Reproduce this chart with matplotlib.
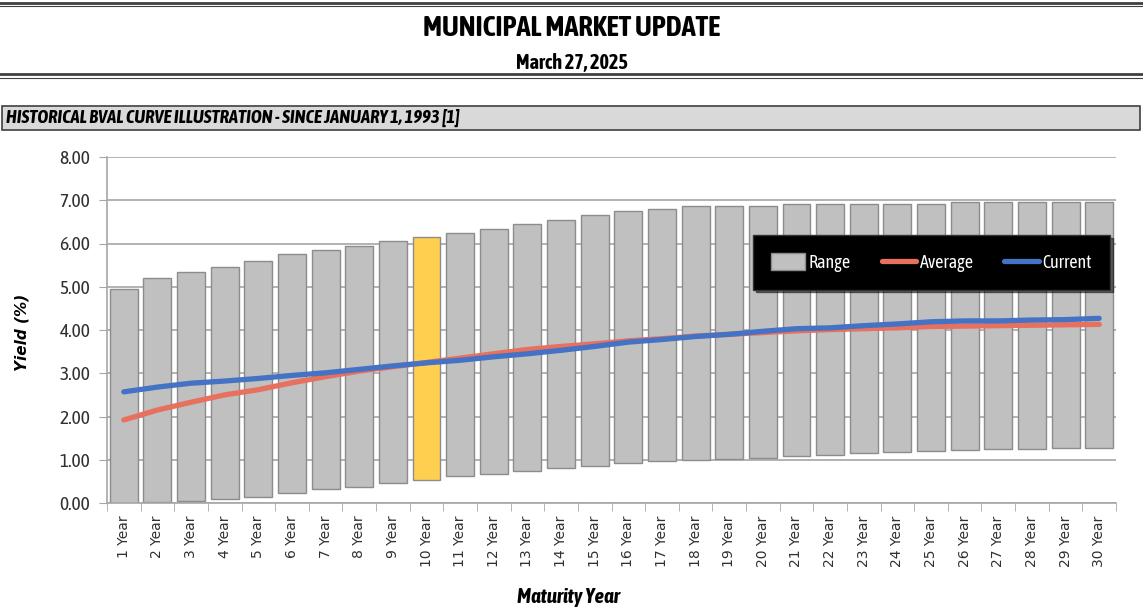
import matplotlib
matplotlib.use("Agg")
import matplotlib.pyplot as plt
import matplotlib.lines as mlines
import matplotlib.patches as mpatches
from matplotlib import font_manager
import numpy as np

# data
maturities = [str(i) + " Year" for i in range(1, 31)]
range_high = [4.95, 5.20, 5.35, 5.45, 5.60, 5.75, 5.85, 5.95, 6.05, 6.15,
              6.25, 6.33, 6.45, 6.55, 6.67, 6.75, 6.80, 6.87, 6.87, 6.87,
              6.92, 6.92, 6.92, 6.92, 6.92, 6.97, 6.97, 6.97, 6.97, 6.97]
range_low = [0.00, 0.02, 0.05, 0.10, 0.15, 0.24, 0.32, 0.37, 0.47, 0.54,
             0.62, 0.68, 0.75, 0.80, 0.86, 0.92, 0.97, 1.00, 1.02, 1.05,
             1.08, 1.12, 1.15, 1.18, 1.20, 1.22, 1.24, 1.25, 1.27, 1.28]
average = [1.92, 2.15, 2.33, 2.50, 2.62, 2.78, 2.92, 3.05, 3.15, 3.25,
           3.35, 3.45, 3.55, 3.62, 3.68, 3.75, 3.80, 3.86, 3.90, 3.94,
           3.98, 4.01, 4.03, 4.05, 4.08, 4.09, 4.10, 4.11, 4.12, 4.13]
current = [2.57, 2.68, 2.77, 2.82, 2.88, 2.95, 3.01, 3.09, 3.17, 3.24,
           3.30, 3.38, 3.45, 3.53, 3.62, 3.72, 3.78, 3.85, 3.90, 3.97,
           4.03, 4.05, 4.10, 4.14, 4.19, 4.21, 4.21, 4.23, 4.24, 4.27]
highlight = "10 Year"

# pick a narrow face that also has a bold weight (Calibri-like look)
names = {}
for f in font_manager.fontManager.ttflist:
	if "Narrow" in f.name or "Condensed" in f.name:
		w = f.weight if isinstance(f.weight, int) else 700 if "bold" in str(f.weight) else 400
		names.setdefault(f.name, set()).add(w)
narrow_name = None
for n in ["Liberation Sans Narrow"] + sorted(names):
	if n in names and max(names[n]) >= 600:
		narrow_name = n
		break
if narrow_name is None and names:
	narrow_name = sorted(names)[0]
narrow = [narrow_name, "DejaVu Sans"] if narrow_name else ["DejaVu Sans"]

fig = plt.figure(figsize=(11.43, 6.07), dpi=100)
W, H = 1143.0, 607.0

def hline(y, lw, color="#404040"):
	fig.add_artist(mlines.Line2D([0, 1], [1 - y / H, 1 - y / H], lw=lw, color=color))

# header lines
hline(2.5, 2.0)
hline(6, 0.8)
hline(74, 2.0)
hline(78, 0.8)

fig.text(0.5, 1 - 28 / H, "MUNICIPAL MARKET UPDATE", ha="center", va="center",
         fontsize=20.5, fontweight="bold", family=narrow)
fig.text(0.5, 1 - 63 / H, "March 27, 2025", ha="center", va="center",
         fontsize=14.5, fontweight="bold", family=narrow)

# section band
band = mpatches.Rectangle((2 / W, 1 - 130 / H), 1138 / W, 24 / H, transform=fig.transFigure,
                          facecolor="#D9D9D9", edgecolor="#404040", lw=1.2)
fig.add_artist(band)
fig.text(6 / W, 1 - 118 / H, "HISTORICAL BVAL CURVE ILLUSTRATION - SINCE JANUARY 1, 1993 [1]",
         ha="left", va="center", fontsize=13.3, fontweight="bold", style="italic", family=narrow)

ax = fig.add_axes([107 / W, 1 - 503 / H, 1009 / W, 346 / H])
x = np.arange(len(maturities))
heights = [h - l for h, l in zip(range_high, range_low)]
colors = ["#FFD050" if m == highlight else "#C0C0C0" for m in maturities]
bars = ax.bar(x, heights, bottom=range_low, width=0.83, color=colors, edgecolor="#8C8C8C",
              linewidth=1, zorder=2, label="Range")
l1, = ax.plot(x, average, color="#E8705F", lw=3.8, solid_capstyle="round", zorder=3, label="Average")
l2, = ax.plot(x, current, color="#4472C4", lw=3.8, solid_capstyle="round", zorder=4, label="Current")

ax.set_xlim(-0.5, len(maturities) - 0.5)
ax.set_ylim(0, 8)
ax.set_yticks(np.arange(0, 9, 1))
ax.set_yticklabels(["%.2f" % v for v in np.arange(0, 9, 1)], family=narrow, fontsize=14, color="#303030")
ax.yaxis.grid(True, color="#A6A6A6", lw=1.2, zorder=0)
ax.set_axisbelow(True)

ax.set_xticks(x)
ax.set_xticklabels(maturities, rotation=90, fontsize=10, color="#303030")
ax.set_xticks(np.arange(-0.5, len(maturities), 1), minor=True)
ax.tick_params(axis="x", which="major", length=0, pad=9)
ax.tick_params(axis="x", which="minor", length=6, color="#A6A6A6", direction="out")
ax.tick_params(axis="y", length=6, color="#A6A6A6", direction="out", pad=6)

for s in ["top", "right"]:
	ax.spines[s].set_visible(False)
for s in ["left", "bottom"]:
	ax.spines[s].set_color("#A6A6A6")
	ax.spines[s].set_linewidth(1.2)

fig.text(22 / W, 1 - 332 / H, "Yield (%)", ha="center", va="center", rotation=90,
         fontsize=11, fontweight="bold", style="italic")
fig.text(568 / W, 1 - 597 / H, "Maturity Year", ha="center", va="center",
         fontsize=15, fontweight="bold", style="italic", family=narrow)

leg = ax.legend([bars, l1, l2], ["Range", "Average", "Current"],
                loc="center", bbox_to_anchor=(0.817, 0.695), ncol=3, frameon=True,
                facecolor="black", edgecolor="#333333", fancybox=False, shadow=True,
                prop={"family": narrow, "size": 13}, handlelength=1.9, handleheight=1.0,
                handletextpad=0.2, columnspacing=1.7, borderpad=1.0)
for t in leg.get_texts():
	t.set_color("white")
leg.get_frame().set_alpha(1)

fig.savefig("out.png", dpi=100)
